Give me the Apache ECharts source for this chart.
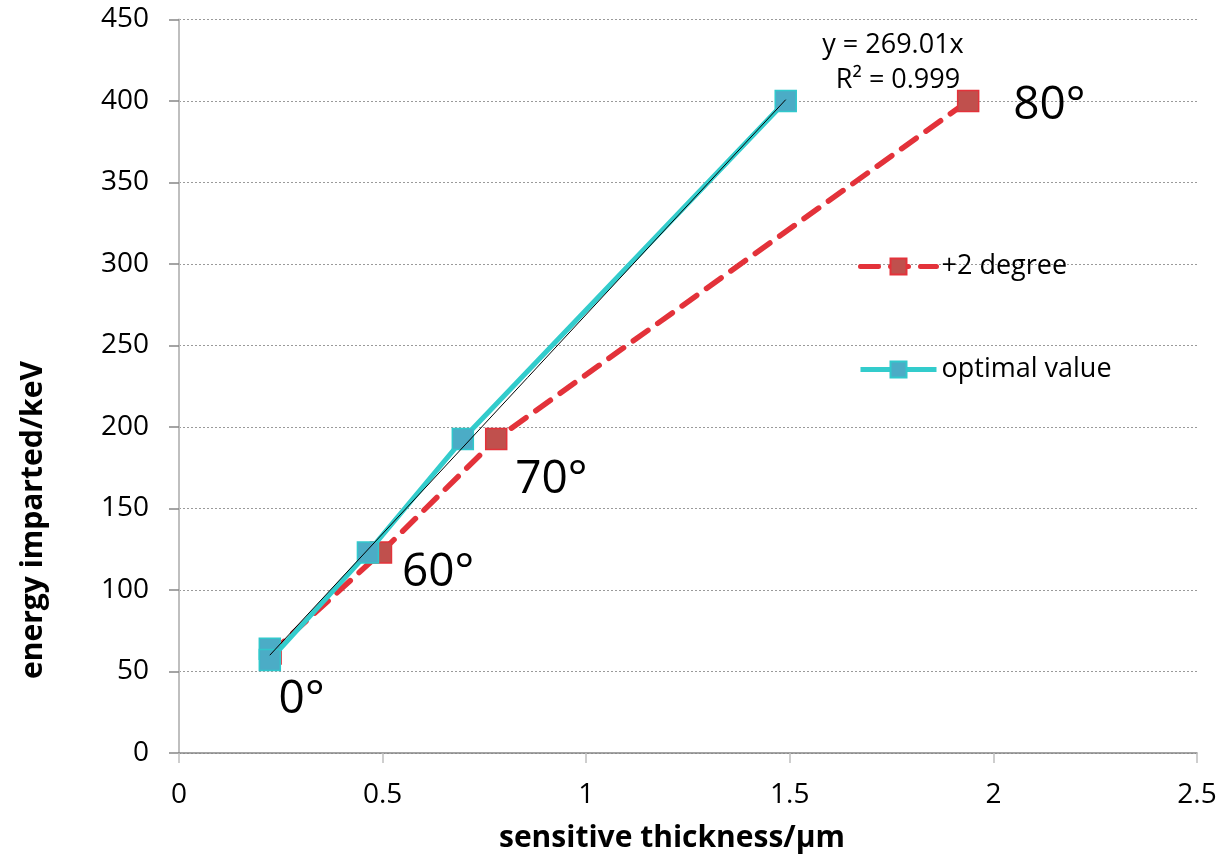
<!DOCTYPE html>
<html>
<head>
<meta charset="utf-8">
<title>energy imparted vs sensitive thickness</title>
<script src="https://cdn.jsdelivr.net/npm/echarts@6/dist/echarts.min.js"></script>
<style>
  html, body { margin: 0; padding: 0; background: #fff; }
  #chart { width: 1229px; height: 860px; }
</style>
</head>
<body>
<div id="chart"></div>
<script>
// data
const angleLabels = ['0°', '60°', '70°', '80°']

// +2 degree series (sensitive thickness µm, energy keV)
const plusTwoX = [0.225, 0.496, 0.779, 1.938]
const plusTwoY = [61, 123, 192.6, 400]

// optimal value series (two overlapping markers at 0°)
const optimalX = [0.223, 0.223, 0.464, 0.697, 1.49]
const optimalY = [64, 57, 123, 192.6, 400]

// linear trendline through origin, as printed on the chart
const trendSlope = 269.01
const trendR2 = 0.999

const xTitle = 'sensitive thickness/µm'
const yTitle = 'energy imparted/keV'

// label offsets for the angle annotations, in px (layout only)
const angleLabelOffsets = [[8, 46], [21, 20], [19, 41], [45, 5]]

const font = '"Open Sans", "Noto Sans", sans-serif'

const zip = (xs, ys) => xs.map((x, i) => [x, ys[i]])

const trendX0 = Math.min(...optimalX)
const trendX1 = Math.max(...optimalX)
const trendData = [[trendX0, trendSlope * trendX0], [trendX1, trendSlope * trendX1]]

const chart = echarts.init(document.getElementById('chart'))

const option = {
  animation: false,
  textStyle: { fontFamily: font },
  grid: { left: 179, right: 32, top: 19.5, bottom: 107, containLabel: false },
  legend: {
    orient: 'vertical',
    left: 853,
    top: 248,
    itemWidth: 76,
    itemHeight: 20,
    itemGap: 76,
    data: ['+2 degree', 'optimal value'],
    lineStyle: { width: 5 },
    textStyle: { fontFamily: font, fontSize: 27, color: '#000' }
  },
  xAxis: {
    type: 'value',
    min: 0,
    max: 2.5,
    interval: 0.5,
    axisLine: { lineStyle: { color: '#868686', width: 1.5 } },
    axisTick: { show: true, length: 10, lineStyle: { color: '#bfbfbf', width: 1.5 } },
    axisLabel: { fontSize: 28, color: '#000', margin: 28, formatter: (v) => String(v) },
    splitLine: { show: false }
  },
  yAxis: {
    type: 'value',
    min: 0,
    max: 450,
    interval: 50,
    axisLine: { show: true, lineStyle: { color: '#bfbfbf', width: 2 } },
    axisTick: { show: true, length: 10, lineStyle: { color: '#868686', width: 1.5 } },
    axisLabel: { fontSize: 28, color: '#000', margin: 30 },
    splitLine: { show: true, lineStyle: { color: '#9a9a9a', type: [2, 2], width: 1 } }
  },
  graphic: [
    {
      type: 'text',
      x: 672,
      y: 838,
      style: { text: xTitle, font: 'bold 30px ' + font, fill: '#000', align: 'center', verticalAlign: 'middle' }
    },
    {
      type: 'text',
      x: 33,
      y: 520,
      rotation: Math.PI / 2,
      style: { text: yTitle, font: 'bold 30px ' + font, fill: '#000', align: 'center', verticalAlign: 'middle' }
    },
    {
      type: 'text',
      x: 893,
      y: 45,
      style: { text: 'y = ' + trendSlope + 'x', font: '27px ' + font, fill: '#000', align: 'center', verticalAlign: 'middle' }
    },
    {
      type: 'text',
      x: 898,
      y: 80,
      style: { text: 'R² = ' + trendR2, font: '27px ' + font, fill: '#000', align: 'center', verticalAlign: 'middle' }
    }
  ],
  series: [
    {
      name: '+2 degree',
      type: 'line',
      data: zip(plusTwoX, plusTwoY).map((p, i) => ({
        value: p,
        label: {
          show: true,
          formatter: angleLabels[i],
          position: 'inside',
          offset: angleLabelOffsets[i],
          align: 'left',
          fontSize: 46,
          fontFamily: font,
          color: '#000'
        }
      })),
      symbol: 'rect',
      symbolSize: 21,
      z: 2,
      lineStyle: { color: '#e3323a', width: 5.5, type: [18, 12], cap: 'round' },
      itemStyle: { color: '#c0504d', borderColor: '#e3323a', borderWidth: 1.5 }
    },
    {
      name: 'optimal value',
      type: 'line',
      data: zip(optimalX, optimalY),
      symbol: 'rect',
      symbolSize: 21,
      z: 3,
      lineStyle: { color: '#33cccc', width: 5 },
      itemStyle: { color: '#4bacc6', borderColor: '#31c8cc', borderWidth: 1.5 }
    },
    {
      name: 'trend',
      type: 'line',
      data: trendData,
      symbol: 'none',
      z: 4,
      silent: true,
      lineStyle: { color: '#000', width: 1 }
    }
  ]
}

chart.setOption(option)
</script>
</body>
</html>
